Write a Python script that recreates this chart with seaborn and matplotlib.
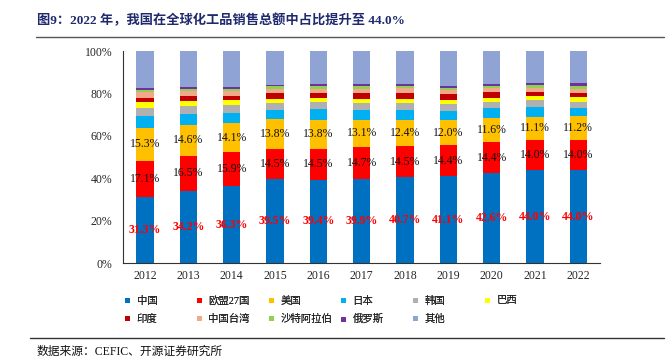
import numpy as np
import pandas as pd
import matplotlib
matplotlib.use("Agg")
import matplotlib.pyplot as plt
import seaborn as sns
from matplotlib.lines import Line2D

years = ['2012', '2013', '2014', '2015', '2016', '2017', '2018', '2019', '2020', '2021', '2022']
china = [31.3, 34.2, 36.3, 39.5, 39.4, 39.9, 40.7, 41.1, 42.6, 44.0, 44.0]
eu = [17.1, 16.5, 15.9, 14.5, 14.5, 14.7, 14.5, 14.4, 14.4, 14.0, 14.0]
usa = [15.3, 14.6, 14.1, 13.8, 13.8, 13.1, 12.4, 12.0, 11.6, 11.1, 11.2]
japan = [5.8, 4.9, 4.6, 4.4, 4.9, 4.6, 4.6, 4.4, 4.7, 4.6, 4.1]
korea = [3.8, 3.8, 3.5, 3.3, 3.3, 3.3, 3.3, 3.3, 2.8, 3.0, 2.7]
brazil = [2.5, 2.4, 2.4, 1.9, 2.0, 2.0, 2.0, 1.9, 1.9, 2.0, 2.2]
india = [2.2, 2.4, 2.2, 2.7, 2.4, 2.5, 2.7, 2.7, 2.5, 2.0, 2.2]
taiwan = [2.8, 2.4, 2.2, 2.0, 2.0, 2.2, 2.2, 1.9, 2.0, 2.0, 1.7]
saudi = [0.6, 0.8, 0.9, 1.3, 1.1, 1.1, 1.1, 1.1, 1.1, 1.1, 1.4]
russia = [1.1, 1.1, 0.9, 0.8, 0.9, 0.9, 0.9, 0.9, 0.9, 1.1, 1.4]
others = [17.5, 16.9, 17.0, 15.8, 15.7, 15.7, 15.6, 16.3, 15.5, 15.1, 15.1]

series_names = ['中国', '欧盟27国', '美国', '日本', '韩国', '巴西', '印度', '中国台湾', '沙特阿拉伯', '俄罗斯', '其他']
series_vals = [china, eu, usa, japan, korea, brazil, india, taiwan, saudi, russia, others]
colors = ['#0070C0', '#FF0000', '#FFC000', '#00B0F0', '#B0B0B0', '#FFFF00',
          '#C00000', '#F2A88A', '#92D050', '#7030A0', '#8FA3D5']

sns.set_style("white")
plt.rcParams['font.family'] = ['Liberation Serif', 'Noto Sans CJK SC', 'DejaVu Sans']

W, H = 669, 361
fig = plt.figure(figsize=(W / 100, H / 100), dpi=100)
ax = fig.add_axes([123.3 / W, 1 - 263.3 / H, (600 - 123.3) / W, (263.3 - 51) / H])

df = pd.DataFrame({name: vals for name, vals in zip(series_names, series_vals)})
df['year'] = years
cum = df[series_names].cumsum(axis=1)

for name, col in reversed(list(zip(series_names, colors))):
    sns.barplot(x=df['year'], y=cum[name], color=col, saturation=1, width=0.4,
                errorbar=None, linewidth=0, ax=ax)

for i in range(len(years)):
    ax.text(i, china[i] / 2, f"{china[i]:.1f}%", ha='center', va='center',
            color='#FF0000', fontsize=8.5, fontweight='bold')
    ax.text(i, china[i] + eu[i] / 2, f"{eu[i]:.1f}%", ha='center', va='center',
            color='#111111', fontsize=8.5)
    ax.text(i, china[i] + eu[i] + usa[i] / 2, f"{usa[i]:.1f}%", ha='center', va='center',
            color='#111111', fontsize=8.5)

ax.set_ylim(0, 100)
ax.set_xlim(-0.5, len(years) - 0.5)
ax.set_yticks(np.arange(0, 101, 20))
ax.set_yticklabels([f"{v}%" for v in range(0, 101, 20)], fontsize=8.5)
ax.set_xlabel('')
ax.set_ylabel('')
ax.set_xticks(np.arange(-0.5, len(years), 1), minor=True)
ax.tick_params(axis='x', which='major', length=0, pad=5, labelsize=8.5)
ax.tick_params(axis='x', which='minor', length=3, direction='out', color='#333333', width=0.7)
ax.tick_params(axis='y', which='major', length=3, direction='in', pad=8, color='#333333', width=0.7)
for s in ['top', 'right']:
    ax.spines[s].set_visible(False)
for s in ['left', 'bottom']:
    ax.spines[s].set_color('#333333')
    ax.spines[s].set_linewidth(0.8)

# legend: one legend per column
layout = [[0, 6], [1, 7], [2, 8], [3, 9], [4, 10], [5]]
col_x = [124, 196, 268, 340, 412, 484]
for cx, idxs in zip(col_x, layout):
    handles = [Line2D([], [], marker='s', linestyle='', markersize=3.6,
                      markerfacecolor=colors[k], markeredgewidth=0) for k in idxs]
    labels = [series_names[k] for k in idxs]
    leg = fig.legend(handles, labels, loc='upper left',
                     bbox_to_anchor=(cx / W, 1 - 296 / H), frameon=False,
                     fontsize=7.5, handlelength=0.6, handletextpad=0.6,
                     borderpad=0, borderaxespad=0, labelspacing=0.75)
    fig.add_artist(leg)

fig.text(37 / W, 1 - 20 / H, '图9：2022 年，我国在全球化工品销售总额中占比提升至 44.0%',
         fontsize=9.5, fontweight='bold', color='#1F2A6E', ha='left', va='center')
fig.add_artist(Line2D([36 / W, 664 / W], [1 - 37 / H, 1 - 37 / H], transform=fig.transFigure,
                      color='#555555', lw=1))
fig.add_artist(Line2D([30 / W, 664 / W], [1 - 338 / H, 1 - 338 / H], transform=fig.transFigure,
                      color='#333333', lw=1))
fig.text(37 / W, 1 - 352 / H, '数据来源：CEFIC、开源证券研究所', fontsize=8.5,
         color='#111111', ha='left', va='center')

fig.savefig('out.png', dpi=100)
